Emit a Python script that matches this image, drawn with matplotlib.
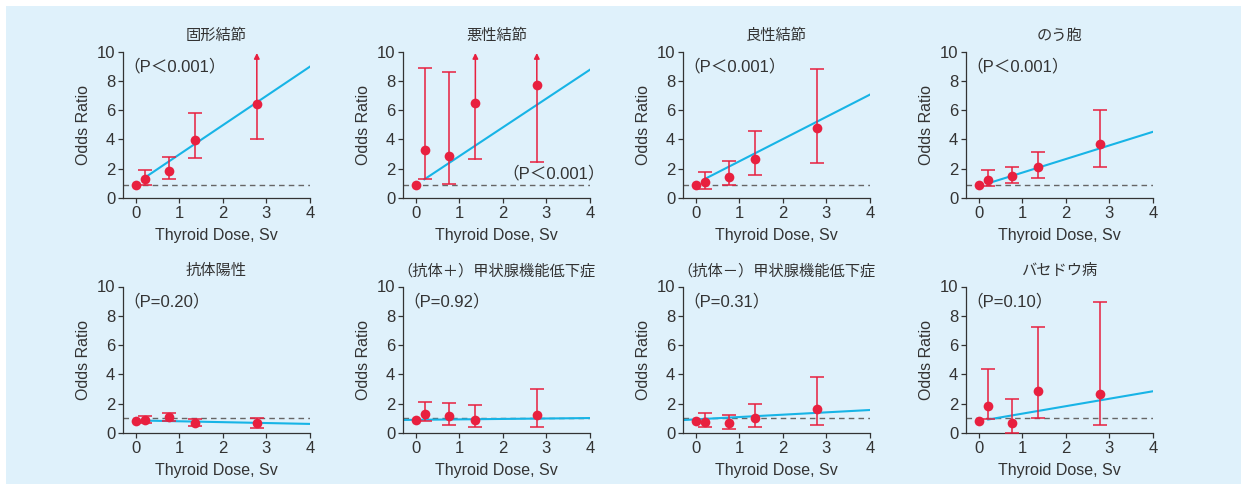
import numpy as np
import matplotlib.pyplot as plt
from matplotlib.patches import Rectangle

plt.rcParams['font.family'] = ['Liberation Sans', 'Noto Sans CJK JP', 'DejaVu Sans']

# data
dose = [0, 0.21, 0.77, 1.37, 2.78]

titles = ['固形結節', '悪性結節', '良性結節', 'のう胞',
          '抗体陽性', '（抗体＋）甲状腺機能低下症', '（抗体－）甲状腺機能低下症', 'バセドウ病']
p_labels = ['（P＜0.001）', '（P＜0.001）', '（P＜0.001）', '（P＜0.001）',
            '（P=0.20）', '（P=0.92）', '（P=0.31）', '（P=0.10）']

odds = [
    [0.86, 1.30, 1.84, 3.95, 6.41],
    [0.89, 3.30, 2.89, 6.48, 7.73],
    [0.90, 1.06, 1.45, 2.67, 4.75],
    [0.86, 1.20, 1.48, 2.11, 3.66],
    [0.84, 0.89, 1.09, 0.71, 0.68],
    [0.89, 1.32, 1.18, 0.91, 1.20],
    [0.84, 0.77, 0.66, 1.00, 1.64],
    [0.84, 1.85, 0.68, 2.85, 2.69],
]
ci_low = [
    [np.nan, 0.91, 1.30, 2.73, 4.05],
    [np.nan, 1.27, 0.93, 2.64, 2.43],
    [np.nan, 0.59, 0.88, 1.56, 2.42],
    [np.nan, 0.80, 1.02, 1.36, 2.14],
    [np.nan, 0.66, 0.84, 0.50, 0.34],
    [np.nan, 0.80, 0.52, 0.39, 0.39],
    [np.nan, 0.43, 0.25, 0.41, 0.52],
    [np.nan, 0.93, 0.02, 1.00, 0.52],
]
# np.inf = open upper limit (drawn as arrow)
ci_high = [
    [np.nan, 1.89, 2.80, 5.77, np.inf],
    [np.nan, 8.90, 8.57, np.inf, np.inf],
    [np.nan, 1.79, 2.53, 4.57, 8.80],
    [np.nan, 1.89, 2.11, 3.11, 6.00],
    [np.nan, 1.18, 1.39, 0.93, 1.05],
    [np.nan, 2.14, 2.02, 1.89, 3.02],
    [np.nan, 1.39, 1.25, 2.00, 3.85],
    [np.nan, 4.35, 2.35, 7.22, 8.97],
]
# fitted line: intercept, slope, start dose
fit_a = [0.97, 0.88, 0.98, 0.80, 0.86, 0.90, 0.93, 0.81]
fit_b = [2.00, 1.97, 1.52, 0.93, -0.06, 0.03, 0.16, 0.51]
fit_x0 = [0.22, 0.2, 0.22, 0.25, 0.22, -0.29, -0.29, 0.22]
ref_level = [0.9, 0.9, 0.9, 0.9, 1.0, 1.0, 1.0, 1.0]

red = '#e8203f'
cyan = '#17b4e6'
bg = '#dff1fb'
txt = '#333333'

fig = plt.figure(figsize=(12.41, 4.84), dpi=100)
fig.patch.set_facecolor('white')
fig.patches.append(Rectangle((6 / 1241, 0), 1, 1 - 6 / 484, transform=fig.transFigure,
                             facecolor=bg, edgecolor='none', zorder=-10))

lefts = [123, 403, 683, 966]
for i in range(8):
    row, col = divmod(i, 4)
    bottom = 1 - 198 / 484 if row == 0 else 1 - 433 / 484
    ax = fig.add_axes([lefts[col] / 1241, bottom, 187 / 1241, 146.5 / 484])
    ax.set_facecolor('none')
    ax.set_xlim(-0.29, 4)
    ax.set_ylim(0, 10)
    ax.set_xticks([0, 1, 2, 3, 4])
    ax.set_yticks([0, 2, 4, 6, 8, 10])
    for s in ['top', 'right']:
        ax.spines[s].set_visible(False)
    for s in ['left', 'bottom']:
        ax.spines[s].set_color(txt)
        ax.spines[s].set_linewidth(0.9)
    ax.tick_params(colors=txt, labelsize=12, length=3.5, width=0.9, pad=2)
    ax.set_xlabel('Thyroid Dose, Sv', fontsize=11.5, color=txt, labelpad=5)
    ax.set_ylabel('Odds Ratio', fontsize=11.5, color=txt, labelpad=4)
    ax.set_title(titles[i], fontsize=11, color=txt, pad=8)

    ax.axhline(ref_level[i], color='#666666', lw=1, ls=(0, (4, 3)), zorder=1)

    xs = np.array([fit_x0[i], 4])
    ax.plot(xs, fit_a[i] + fit_b[i] * xs, color=cyan, lw=1.5, zorder=2)

    y = np.array(odds[i])
    lo = np.array(ci_low[i])
    hi = np.array(ci_high[i])
    for j in range(1, len(dose)):
        if np.isinf(hi[j]):
            ax.plot([dose[j], dose[j]], [lo[j], y[j]], color=red, lw=1.1, zorder=3)
            ax.plot(dose[j], lo[j], marker='_', ms=10, mew=1.1, color=red, zorder=3)
            ax.annotate('', xy=(dose[j], 9.9), xytext=(dose[j], y[j]),
                        arrowprops=dict(arrowstyle='-|>', color=red, lw=1.1,
                                        mutation_scale=8, shrinkA=0, shrinkB=0),
                        zorder=3)
        else:
            ax.errorbar(dose[j], y[j], yerr=[[y[j] - lo[j]], [hi[j] - y[j]]], fmt='none',
                        ecolor=red, elinewidth=1.1, capsize=5, capthick=1.1, zorder=3)
    ax.plot(dose, y, 'o', color=red, ms=7, mec='none', zorder=4, clip_on=False)

    if i == 1:
        ax.text(4.34, 1.7, p_labels[i], fontsize=12, color=txt, ha='right', va='center')
    else:
        ax.text(-0.27, 9.0, p_labels[i], fontsize=12, color=txt, ha='left', va='center')

fig.savefig('out.png', dpi=100, facecolor=fig.get_facecolor())
